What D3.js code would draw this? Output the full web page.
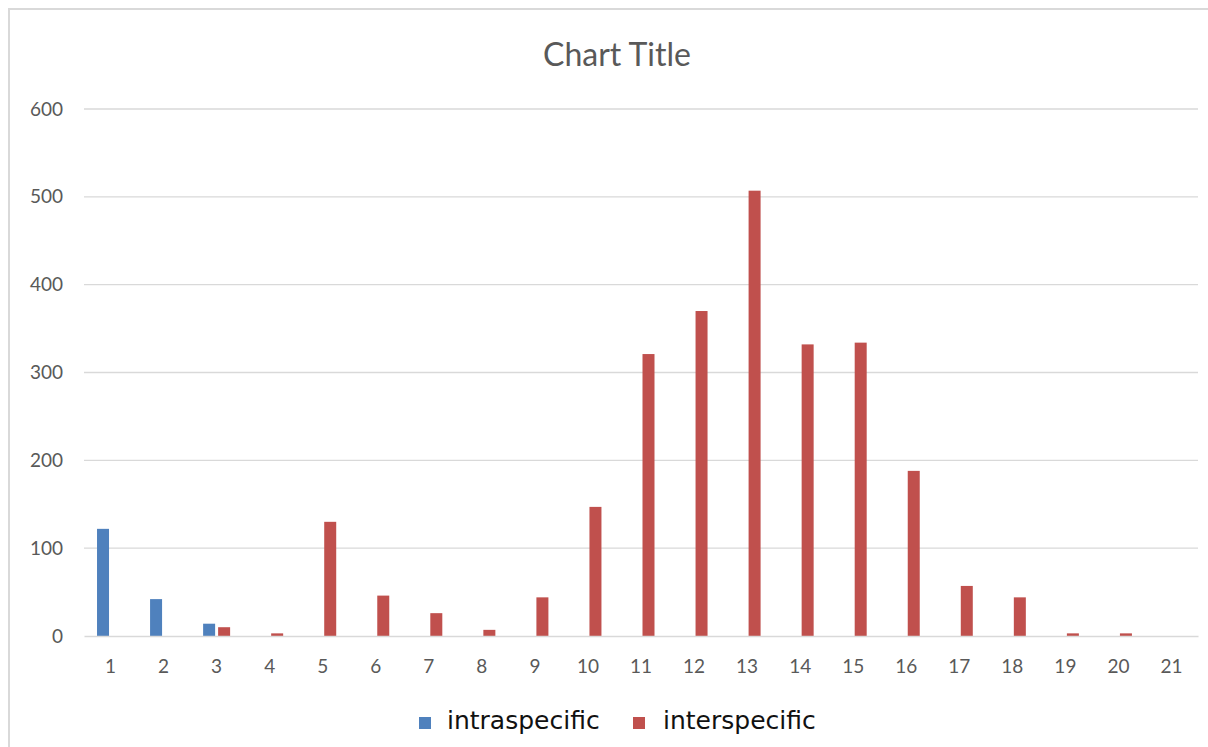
<!DOCTYPE html>
<html>
<head>
<meta charset="utf-8">
<script src="https://cdn.jsdelivr.net/npm/d3@7"></script>
<style>
  html, body { margin: 0; padding: 0; background: #fff; }
  svg { display: block; }
</style>
</head>
<body>
<svg id="chart" width="1208" height="747"></svg>
<script>
// Category labels along the x axis
const categories = ["1","2","3","4","5","6","7","8","9","10","11","12","13","14","15","16","17","18","19","20","21"];
// Counts per category for each series
const intraspecific = [122, 42, 14, 0, 0, 0, 0, 0, 0, 0, 0, 0, 0, 0, 0, 0, 0, 0, 0, 0, 0];
const interspecific = [0, 0, 10, 3, 130, 46, 26, 7, 44, 147, 321, 370, 507, 332, 334, 188, 57, 44, 3, 3, 0];
const yTicks = [0, 100, 200, 300, 400, 500, 600];
const seriesNames = ["intraspecific", "interspecific"];
const seriesColors = ["#4F81BD", "#C0504D"];

const svg = d3.select("#chart");
const W = 1208, H = 747;
const plot = { left: 84, right: 1198, top: 109, bottom: 636 };

// Chart area outline
svg.append("rect")
  .attr("x", 9).attr("y", 9)
  .attr("width", W + 20).attr("height", H + 20)
  .attr("fill", "#fff")
  .attr("stroke", "#d9d9d9")
  .attr("stroke-width", 2);

const x = d3.scaleBand().domain(categories).range([plot.left, plot.right]).padding(0);
const y = d3.scaleLinear().domain([0, 600]).range([plot.bottom, plot.top]);

// Horizontal gridlines
svg.append("g")
  .selectAll("line")
  .data(yTicks.filter(t => t > 0))
  .join("line")
  .attr("x1", plot.left).attr("x2", plot.right)
  .attr("y1", d => y(d)).attr("y2", d => y(d))
  .attr("stroke", "#d9d9d9").attr("stroke-width", 1.3);

// Y axis labels
const yAxis = svg.append("g")
  .attr("transform", `translate(${plot.left - 21},0)`)
  .call(d3.axisLeft(y).tickValues(yTicks).tickSize(0).tickPadding(0).tickFormat(d3.format("d")));
yAxis.select(".domain").remove();
yAxis.selectAll("text")
  .attr("font-family", "Lato, 'Open Sans', sans-serif")
  .attr("font-size", 19)
  .attr("fill", "#595959");

// Bars
const barW = 12, off = 7.5;
const series = [intraspecific, interspecific];
series.forEach((vals, si) => {
  svg.append("g")
    .selectAll("rect")
    .data(categories.map((c, i) => ({ c, v: vals[i] })).filter(d => d.v > 0))
    .join("rect")
    .attr("x", d => x(d.c) + x.bandwidth() / 2 + (si === 0 ? -off : off) - barW / 2)
    .attr("width", barW)
    .attr("y", d => y(d.v))
    .attr("height", d => y(0) - y(d.v))
    .attr("fill", seriesColors[si]);
});

// X axis baseline and labels
const xAxis = svg.append("g")
  .attr("transform", `translate(0,${plot.bottom})`)
  .call(d3.axisBottom(x).tickSize(0).tickPadding(24));
xAxis.select(".domain")
  .attr("stroke", "#d9d9d9").attr("stroke-width", 1.3);
xAxis.selectAll("text")
  .attr("font-family", "Lato, 'Open Sans', sans-serif")
  .attr("font-size", 19)
  .attr("fill", "#595959");

// Title
svg.append("text")
  .attr("x", 617).attr("y", 66)
  .attr("text-anchor", "middle")
  .attr("font-family", "Lato, 'Open Sans', sans-serif")
  .attr("font-size", 32)
  .attr("fill", "#595959")
  .text("Chart Title");

// Legend
const legendItems = [
  { name: seriesNames[0], color: seriesColors[0], mx: 419, tx: 447 },
  { name: seriesNames[1], color: seriesColors[1], mx: 633, tx: 663 }
];
const lg = svg.append("g");
legendItems.forEach(it => {
  lg.append("rect")
    .attr("x", it.mx).attr("y", 717)
    .attr("width", 12).attr("height", 12)
    .attr("fill", it.color);
  lg.append("text")
    .attr("x", it.tx).attr("y", 729)
    .attr("font-family", "'DejaVu Sans', sans-serif")
    .attr("font-size", 25)
    .attr("fill", "#111")
    .text(it.name);
});
</script>
</body>
</html>
